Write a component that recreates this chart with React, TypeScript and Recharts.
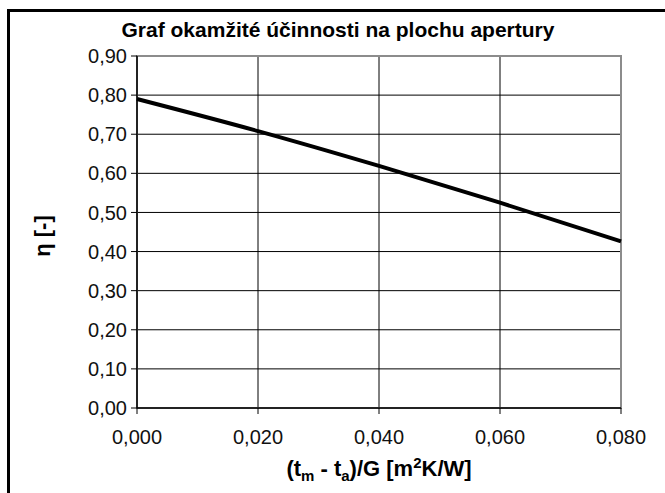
import React from "react";
import {
  LineChart,
  Line,
  XAxis,
  YAxis,
  CartesianGrid,
  ReferenceArea,
} from "recharts";

// values
const X_VALUES = [0, 0.02, 0.04, 0.06, 0.08];
const ETA_VALUES = [0.79, 0.708, 0.619, 0.525, 0.426];
const X_TICKS = [0, 0.02, 0.04, 0.06, 0.08];
const Y_TICKS = [0, 0.1, 0.2, 0.3, 0.4, 0.5, 0.6, 0.7, 0.8, 0.9];

const data = X_VALUES.map((x, i) => ({ x, eta: ETA_VALUES[i] }));

const FONT = "'Liberation Sans', Arial, sans-serif";

const fmt = (v: number, d: number) => v.toFixed(d).replace(".", ",");

const XTick = (props: any) => {
  const { x, y, payload } = props;
  return (
    <text
      x={x}
      y={y + 28}
      textAnchor="middle"
      fontFamily={FONT}
      fontSize={20}
      fill="#111"
    >
      {fmt(payload.value, 3)}
    </text>
  );
};

export default function App() {
  return (
    <div
      style={{
        position: "absolute",
        left: 0,
        top: 0,
        width: 665,
        height: 493,
        background: "#fff",
        overflow: "hidden",
        fontFamily: FONT,
      }}
    >
      <div
        style={{
          position: "absolute",
          left: 7,
          top: 9,
          width: 700,
          height: 600,
          borderLeft: "3px solid #000",
          borderTop: "3px solid #000",
        }}
      />
      <LineChart
        width={665}
        height={493}
        data={data}
        margin={{ top: 56, right: 44, bottom: 0, left: 0 }}
        style={{ position: "absolute", left: 0, top: 0 }}
      >
        <CartesianGrid stroke="#000" strokeWidth={1} />
        <XAxis
          dataKey="x"
          type="number"
          domain={[0, 0.08]}
          ticks={X_TICKS}
          height={85}
          axisLine={{ stroke: "#000", strokeWidth: 1.5 }}
          tickLine={{ stroke: "#000" }}
          tick={<XTick />}
        />
        <YAxis
          type="number"
          domain={[0, 0.9]}
          ticks={Y_TICKS}
          width={137}
          tickMargin={4}
          axisLine={{ stroke: "#000", strokeWidth: 1.5 }}
          tickLine={{ stroke: "#000" }}
          tickFormatter={(v: number) => fmt(v, 2)}
          tick={{ fontFamily: FONT, fontSize: 20, fill: "#111" }}
        />
        <ReferenceArea
          x1={0}
          x2={0.08}
          y1={0}
          y2={0.9}
          fill="none"
          stroke="#8c8c8c"
          strokeWidth={2}
        />
        <Line
          dataKey="eta"
          type="monotone"
          stroke="#000"
          strokeWidth={4}
          dot={false}
          isAnimationActive={false}
        />
      </LineChart>
      <div
        style={{
          position: "absolute",
          left: 0,
          width: 676,
          top: 17,
          textAlign: "center",
          fontWeight: "bold",
          fontSize: 21,
          lineHeight: "26px",
        }}
      >
        Graf okamžité účinnosti na plochu apertury
      </div>
      <div
        style={{
          position: "absolute",
          left: 137,
          width: 484,
          top: 456,
          textAlign: "center",
          fontWeight: "bold",
          fontSize: 22,
          lineHeight: "26px",
        }}
      >
        (t<sub style={{ fontSize: 15, lineHeight: 0 }}>m</sub> - t
        <sub style={{ fontSize: 15, lineHeight: 0 }}>a</sub>)/G [m
        <sup style={{ fontSize: 15, lineHeight: 0 }}>2</sup>K/W]
      </div>
      <div
        style={{
          position: "absolute",
          left: 43,
          top: 236,
          transform: "translate(-50%, -50%) rotate(-90deg)",
          fontWeight: "bold",
          fontSize: 22,
          whiteSpace: "nowrap",
        }}
      >
        η [-]
      </div>
    </div>
  );
}
